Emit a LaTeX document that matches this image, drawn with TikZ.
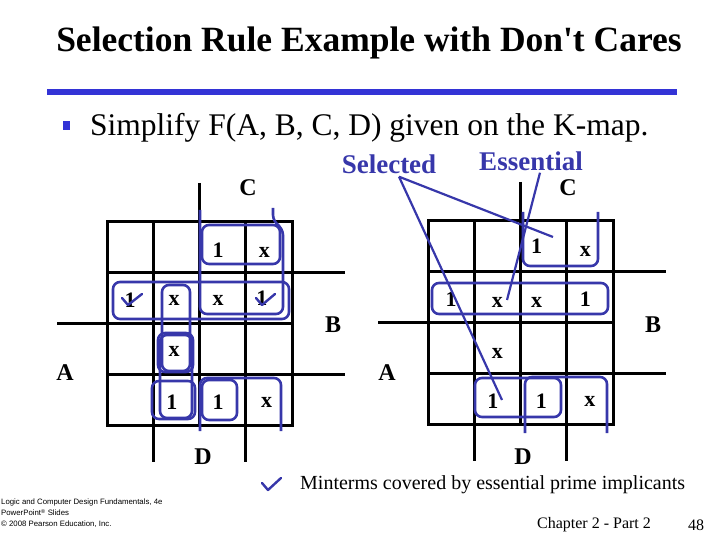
\documentclass[tikz,border=0pt]{standalone}
\usepackage{fontspec}
\setmainfont{Liberation Serif}
\setsansfont{Liberation Sans}
\usetikzlibrary{positioning}
\definecolor{slideblue}{RGB}{51,51,214}
\definecolor{loopblue}{RGB}{55,55,170}

\begin{document}
\begin{tikzpicture}[x=1pt,y=-1pt,
        grid/.style={line width=3pt},
        loop/.style={draw=loopblue, line width=2.6pt, rounded corners=7pt},
        cell/.style={font=\bfseries\fontsize{22}{22}\selectfont, inner sep=0pt},
        var/.style={font=\bfseries\fontsize{24}{24}\selectfont, inner sep=0pt},
        note/.style={font=\bfseries\fontsize{27}{27}\selectfont, text=loopblue, inner sep=0pt},
        pointer/.style={draw=loopblue, line width=2.2pt},
        tick/.style={draw=loopblue, line width=2.4pt, line cap=round, line join=round}]
      \useasboundingbox (0,0) rectangle (720,540);
      % cell size of both maps
      \def\cw{46.25}
      \def\ch{50.75}
      % Title and bullet
      \node[font=\bfseries\fontsize{35.5}{35.5}\selectfont, inner sep=0pt] (title) at (369,43) {Selection Rule Example with Don\textquotesingle t Cares};
      \draw[slideblue, line width=6pt] (47,92) -- (677,92);
      \node[fill=slideblue, minimum width=7pt, minimum height=9pt, inner sep=0pt] (bullet) at (66,126) {};
      \node[font=\fontsize{31.5}{31.5}\selectfont, inner sep=0pt, anchor=west] (task) at (90,128) {Simplify F(A, B, C, D) given on the K-map.};
      % Left K-map
      \begin{scope}[shift={(107,222)}]
        \draw[grid] (0,0) rectangle (4*\cw,4*\ch);
        \foreach \i in {1,2,3} {
          \draw[grid] (\i*\cw,0) -- (\i*\cw,4*\ch);
          \draw[grid] (0,\i*\ch) -- (4*\cw,\i*\ch);
        }
        \draw[grid] (2*\cw,-39) -- (2*\cw,0);
        \draw[grid] (4*\cw,\ch) -- (4*\cw+53,\ch);
        \draw[grid] (4*\cw,3*\ch) -- (4*\cw+53,3*\ch);
        \draw[grid] (-50,2*\ch) -- (0,2*\ch);
        \draw[grid] (\cw,4*\ch) -- (\cw,4*\ch+37);
        \draw[grid] (3*\cw,4*\ch) -- (3*\cw,4*\ch+37);
        \node[var] (lC) at (141,-34) {C};
        \node[var] (lB) at (226,103) {B};
        \node[var] (lA) at (-42,151) {A};
        \node[var] (lD) at (96,235) {D};
        \node[cell] (l02) at (2.4*\cw,0.55*\ch) {1};
        \node[cell] (l03) at (3.4*\cw,0.6*\ch) {x};
        \node[cell] (l10) at (0.5*\cw,1.55*\ch) {1};
        \node[cell] (l11) at (1.45*\cw,1.55*\ch) {x};
        \node[cell] (l12) at (2.4*\cw,1.55*\ch) {x};
        \node[cell] (l13) at (3.35*\cw,1.5*\ch) {1};
        \node[cell] (l21) at (1.45*\cw,2.55*\ch) {x};
        \node[cell] (l31) at (1.4*\cw,3.55*\ch) {1};
        \node[cell] (l32) at (2.4*\cw,3.55*\ch) {1};
        \node[cell] (l33) at (3.45*\cw,3.55*\ch) {x};
      \end{scope}
      % Left map loops
      \draw[loop] (202,225) rectangle (280,264);
      \draw[loop] (200,210) -- (200,314) -- (283,314) -- (283,228) -- (273,222) -- (273,208);
      \draw[loop] (113,282) rectangle (289,319);
      \draw[loop] (162,285) rectangle (190,371);
      \draw[loop] (158,333) rectangle (193,372);
      \draw[loop] (160,335) rectangle (192,418);
      \draw[loop] (152,381) rectangle (195,419);
      \draw[loop] (202,380) rectangle (237,420);
      \draw[loop] (200,431) -- (200,378) -- (281,378) -- (281,431);
      % checks on the essential minterms
      \draw[tick] (122,298) -- (128,305) -- (142,294);
      \draw[tick] (256,298) -- (262,305) -- (275,294);
      % Right K-map
      \begin{scope}[shift={(428,221)}]
        \draw[grid] (0,0) rectangle (4*\cw,4*\ch);
        \foreach \i in {1,2,3} {
          \draw[grid] (\i*\cw,0) -- (\i*\cw,4*\ch);
          \draw[grid] (0,\i*\ch) -- (4*\cw,\i*\ch);
        }
        \draw[grid] (2*\cw,-39) -- (2*\cw,0);
        \draw[grid] (4*\cw,\ch) -- (4*\cw+53,\ch);
        \draw[grid] (4*\cw,3*\ch) -- (4*\cw+53,3*\ch);
        \draw[grid] (-50,2*\ch) -- (0,2*\ch);
        \draw[grid] (\cw,4*\ch) -- (\cw,4*\ch+37);
        \draw[grid] (3*\cw,4*\ch) -- (3*\cw,4*\ch+37);
        \node[var] (rC) at (140,-33) {C};
        \node[var] (rB) at (225,104) {B};
        \node[var] (rA) at (-41,152) {A};
        \node[var] (rD) at (95,236) {D};
        \node[cell] (r02) at (2.35*\cw,0.5*\ch) {1};
        \node[cell] (r03) at (3.4*\cw,0.6*\ch) {x};
        \node[cell] (r10) at (0.5*\cw,1.55*\ch) {1};
        \node[cell] (r11) at (1.5*\cw,1.6*\ch) {x};
        \node[cell] (r12) at (2.35*\cw,1.6*\ch) {x};
        \node[cell] (r13) at (3.4*\cw,1.55*\ch) {1};
        \node[cell] (r21) at (1.5*\cw,2.6*\ch) {x};
        \node[cell] (r31) at (1.4*\cw,3.55*\ch) {1};
        \node[cell] (r32) at (2.45*\cw,3.55*\ch) {1};
        \node[cell] (r33) at (3.5*\cw,3.55*\ch) {x};
      \end{scope}
      % Right map loops
      \draw[loop] (523,212) -- (523,266) -- (598,266) -- (598,212);
      \draw[loop] (432,283) rectangle (608,314);
      \draw[loop] (475,378) rectangle (561,417);
      \draw[loop] (525,433) -- (525,377) -- (607,377) -- (607,433);
      % Notes with pointers
      \node[note] (sel) at (389,164) {Selected};
      \node[note] (ess) at (531,161) {Essential};
      \coordinate (selfoot) at ([xshift=10pt,yshift=-3pt]sel.south);
      \coordinate (selend1) at (553,237);
      \coordinate (selend2) at (502,400);
      \coordinate (essfoot) at ([xshift=9pt,yshift=-2pt]ess.south);
      \coordinate (essend) at (507,300);
      \draw[pointer] (selfoot) -- (selend1);
      \draw[pointer] (selfoot) -- (selend2);
      \draw[pointer] (essfoot) -- (essend);
      % Legend
      \node[font=\fontsize{20}{20}\selectfont, inner sep=0pt, anchor=west] (legend) at (300,485) {Minterms covered by essential prime implicants};
      \draw[tick] (262,483) -- (268,490) -- (281,478);
      % Footer
      \node[font=\fontsize{16}{16}\selectfont, inner sep=0pt] (chapter) at (594,525) {Chapter 2 - Part 2};
      \node[font=\fontsize{16}{16}\selectfont, inner sep=0pt] (page) at (696,525) {48};
      \node[font=\sffamily\fontsize{7.8}{11}\selectfont, inner sep=0pt, anchor=north west, align=left] (credit) at (1,499)
        {Logic and Computer Design Fundamentals, 4e\\PowerPoint\textsuperscript{\textregistered} Slides\\\textcopyright{} 2008 Pearson Education, Inc.};
    \end{tikzpicture}
\end{document}
